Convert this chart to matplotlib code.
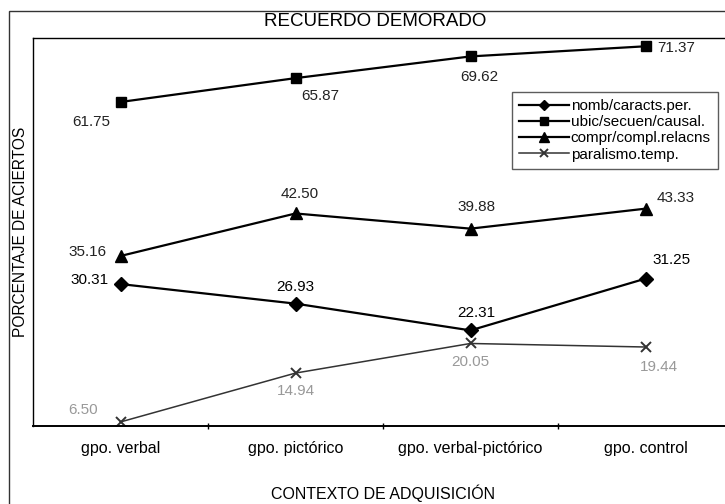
import matplotlib
matplotlib.use("Agg")
import matplotlib.pyplot as plt
from matplotlib.patches import Rectangle
from matplotlib.ticker import FixedLocator

plt.rcParams["font.family"] = ["Liberation Sans", "DejaVu Sans"]

# ── Data ────────────────────────────────────────────────────────────────────
groups = ["gpo. verbal", "gpo. pictórico", "gpo. verbal-pictórico", "gpo. control"]
nomb   = [30.31, 26.93, 22.31, 31.25]
ubic   = [61.75, 65.87, 69.62, 71.37]
compr  = [35.16, 42.50, 39.88, 43.33]
paral  = [6.50, 14.94, 20.05, 19.44]
labels = ["nomb/caracts.per.", "ubic/secuen/causal.",
          "compr/compl.relacns", "paralismo.temp."]

# label offsets in pixels (dx, dy, ha) for each point
off_nomb  = [(-12, 4, "right"), (0, 17, "center"), (6, 17, "center"), (26, 19, "center")]
off_ubic  = [(-29, -20, "center"), (25, -18, "center"), (9, -21, "center"), (12, -2, "left")]
off_compr = [(-33, 4, "center"), (4, 19, "center"), (6, 22, "center"), (30, 11, "center")]
off_paral = [(-37, 12, "center"), (0, -18, "center"), (0, -19, "center"), (13, -20, "center")]

W, H = 725, 504
fig = plt.figure(figsize=(W / 100, H / 100), dpi=100)
fig.patch.set_facecolor("white")

# outer chart border (cropped on the right and bottom)
fig.patches.append(Rectangle((9 / W, -0.05), 1.2, (H - 11) / H + 0.05,
                             transform=fig.transFigure, fill=False,
                             edgecolor="#333333", linewidth=1.0))

ax = fig.add_axes([33 / W, (H - 426) / H, 700 / W, (426 - 38) / H])
x = list(range(len(groups)))

ax.plot(x, nomb, color="black", lw=1.6, marker="D", ms=7, label=labels[0])
ax.plot(x, ubic, color="black", lw=1.6, marker="s", ms=6.8, label=labels[1])
ax.plot(x, compr, color="black", lw=1.6, marker="^", ms=8.5, label=labels[2])
ax.plot(x, paral, color="#333333", lw=1.1, marker="x", ms=7.5, mew=1.4,
        label=labels[3])

for series, offs, col in [(nomb, off_nomb, "black"), (ubic, off_ubic, "#222222"),
                          (compr, off_compr, "#222222"), (paral, off_paral, "#999999")]:
    for xi, v, (dx, dy, ha) in zip(x, series, offs):
        ax.annotate(f"{v:.2f}", (xi, v), xytext=(dx, dy), textcoords="offset pixels",
                    ha=ha, va="center", fontsize=11, color=col)

ax.set_xlim(-0.5, 3.5)
ax.set_ylim(5.8, 72.8)
ax.set_xticks(x)
ax.set_xticklabels(groups, fontsize=11.5)
ax.tick_params(axis="x", which="major", length=0, pad=11)
ax.xaxis.set_minor_locator(FixedLocator([0.5, 1.5, 2.5]))
ax.tick_params(axis="x", which="minor", length=4, direction="inout", width=1)
ax.set_yticks([])

for s in ["left", "top"]:
    ax.spines[s].set_linewidth(1.0)
ax.spines["bottom"].set_linewidth(1.4)
ax.spines["right"].set_visible(False)

ax.set_xlabel("CONTEXTO DE ADQUISICIÓN", fontsize=11.5, labelpad=20)
ax.set_ylabel("PORCENTAJE DE ACIERTOS", fontsize=11.2)
ax.yaxis.set_label_coords(-12 / 700, 0.5)
ax.yaxis.label.set_va("center")

fig.text(375 / W, 1 - 22 / H, "RECUERDO DEMORADO", ha="center", va="center",
         fontsize=13.5)

leg = ax.legend(loc="upper left", bbox_to_anchor=(512 / W, 1 - 92 / H),
                bbox_transform=fig.transFigure, fontsize=11, frameon=True,
                fancybox=False, edgecolor="#333333", handlelength=3.3,
                handletextpad=0.1, labelspacing=0.15, borderpad=0.45,
                borderaxespad=0, markerscale=0.8)
leg.get_frame().set_linewidth(1.0)

fig.savefig("out.png", dpi=100)
